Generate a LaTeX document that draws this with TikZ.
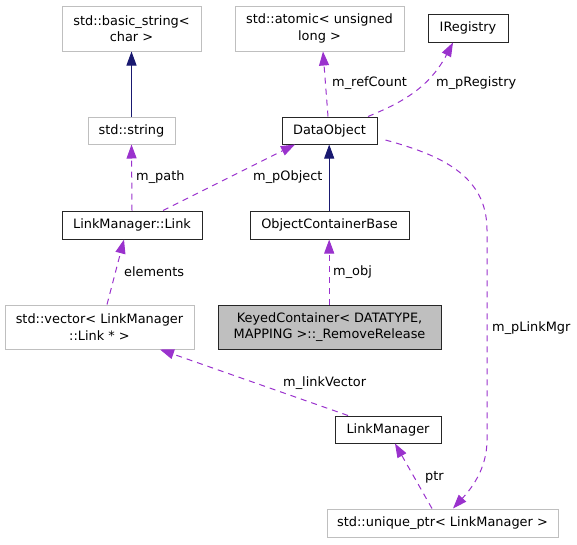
\documentclass[tikz,border=0pt]{standalone}
\usepackage{fontspec}
\setmainfont{DejaVu Sans}
\usetikzlibrary{arrows.meta}
\definecolor{usecol}{HTML}{9A32CD}
\definecolor{inhcol}{HTML}{191970}
\definecolor{extcol}{HTML}{BFBFBF}
\begin{document}
\begin{tikzpicture}[>={Triangle[length=14pt,width=10pt]},x=1pt,y=-1pt,
	every node/.style={font=\fontsize{12.9}{16.5}\selectfont,inner sep=0pt,align=center},
	cls/.style={draw=black!85,line width=1pt,rectangle},
	ext/.style={draw=extcol,line width=1pt,rectangle},
	usage/.style={draw=usecol,line width=1pt,dash pattern=on 6pt off 5pt,->},
	inherit/.style={draw=inhcol,line width=1pt,->},
	lbl/.style={anchor=west}]
	\useasboundingbox (0,0) rectangle (577,544);
	% classes
	\node[ext,minimum width=139,minimum height=45] (bstr) at (131.5,28.5) {std::basic\_string<\\char >};
	\node[ext,minimum width=169,minimum height=45] (atom) at (319.5,28.5) {std::atomic< unsigned\\long >};
	\node[cls,minimum width=80,minimum height=28] (ireg) at (468,28) {IRegistry};
	\node[ext,minimum width=87,minimum height=27] (str) at (131.5,130.5) {std::string};
	\node[cls,minimum width=95,minimum height=27] (dobj) at (329.5,130.5) {DataObject};
	\node[cls,minimum width=140,minimum height=28] (lnk) at (132,225) {LinkManager::Link};
	\node[cls,minimum width=159,minimum height=28] (ocb) at (329.5,225) {ObjectContainerBase};
	\node[ext,minimum width=189,minimum height=44] (vec) at (99.5,327) {std::vector< LinkManager\\::Link * >};
	\node[cls,fill=extcol,minimum width=223,minimum height=44] (keyed) at (329.5,327) {KeyedContainer< DATATYPE,\\ MAPPING >::\_RemoveRelease};
	\node[cls,minimum width=106,minimum height=27] (lman) at (388,429.5) {LinkManager};
	\node[ext,minimum width=231,minimum height=28] (uptr) at (442.5,523) {std::unique\_ptr< LinkManager >};
	% inheritance
	\draw[inherit] (str.north) -- (bstr.south);
	\draw[inherit] ([xshift=-0.3]ocb.north) -- ([xshift=-0.3]dobj.south);
	% members
	\draw[usage] ([xshift=-1.5]dobj.north) -- ([xshift=3.5]atom.south);
	\draw[usage] ([xshift=38.5]dobj.north) .. controls (398,104) and (428,90) .. ([xshift=-15]ireg.south);
	\draw[usage] (lnk.north) -- (str.south);
	\draw[usage] ([xshift=31]lnk.north) -- ([xshift=-34.5]dobj.south);
	\draw[usage] ([xshift=-0.3]keyed.north) -- ([xshift=-0.3]ocb.south);
	\draw[usage] ([xshift=7.5]vec.north) -- ([xshift=-8]lnk.south);
	\draw[usage] ([xshift=-40]lman.north) -- ([xshift=60.5]vec.south);
	\draw[usage] ([xshift=-10.5]uptr.north) -- ([xshift=7]lman.south);
	\draw[usage] ([xshift=8,yshift=-9.5]dobj.east) .. controls (440,155) and (487,175) .. (487,230)
		-- (487,440) .. controls (487,470) and (470,490) .. ([xshift=10.5]uptr.north);
	% labels
	\node[lbl] (lpath) at (136,177) {m\_path};
	\node[lbl] (lpobj) at (253,177) {m\_pObject};
	\node[lbl] (lref) at (332,83) {m\_refCount};
	\node[lbl] (lreg) at (436,83) {m\_pRegistry};
	\node[lbl] (lelem) at (124,272) {elements};
	\node[lbl] (lobj) at (333,272) {m\_obj};
	\node[lbl] (lvec) at (283,383) {m\_linkVector};
	\node[lbl] (lptr) at (425,477) {ptr};
	\node[lbl] (lmgr) at (492,328) {m\_pLinkMgr};
\end{tikzpicture}
\end{document}
